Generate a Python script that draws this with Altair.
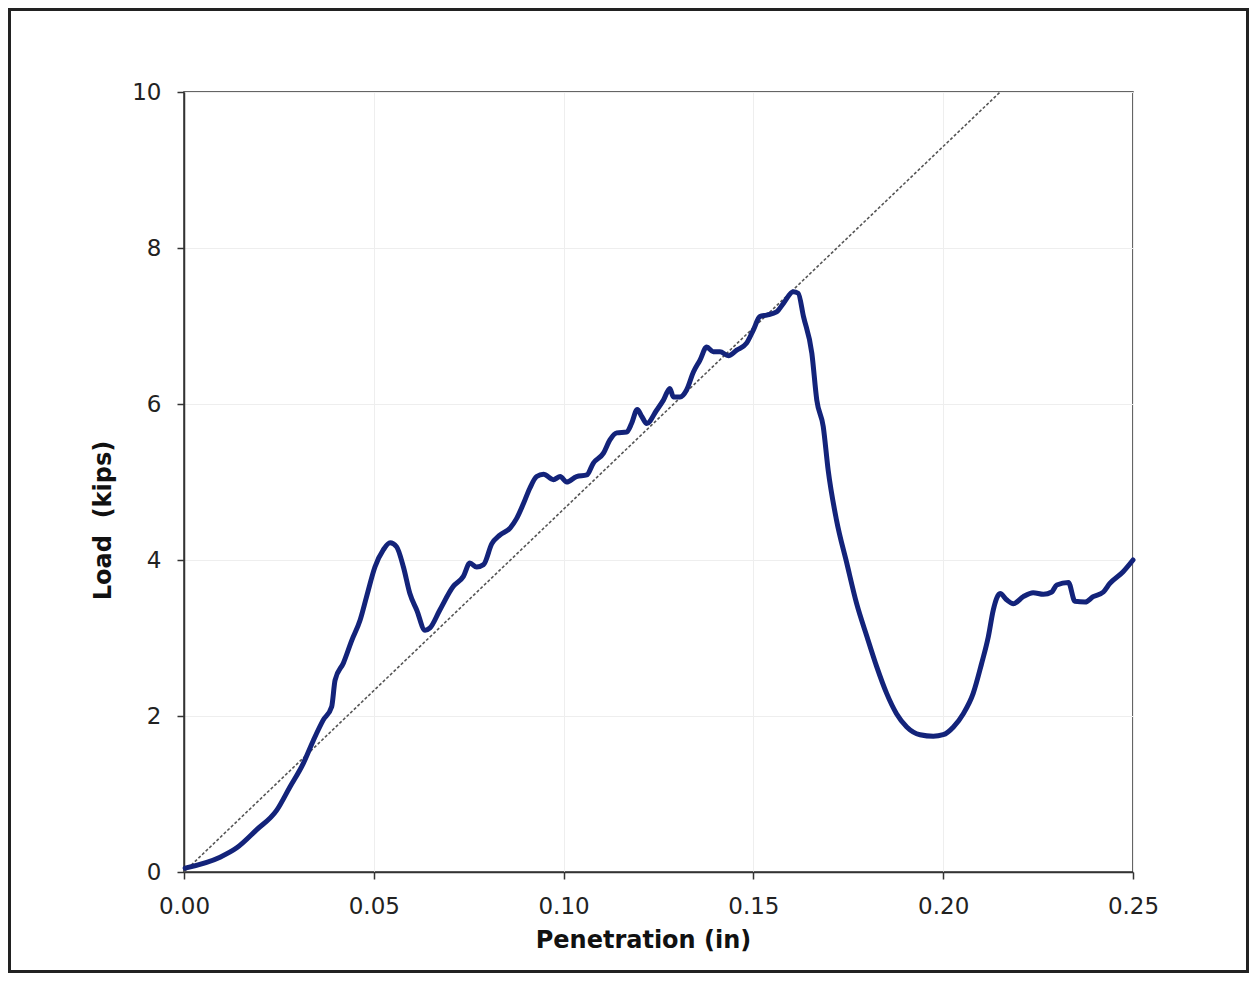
import altair as alt
import pandas as pd

# Measured load-penetration curve
penetration = [0.0003, 0.0095, 0.0139, 0.0191, 0.0244, 0.0279, 0.0314, 0.0341, 0.0367, 0.0389,
               0.0398, 0.0420, 0.0442, 0.0464, 0.0481, 0.0503, 0.0525, 0.0543, 0.0560, 0.0578,
               0.0595, 0.0613, 0.0635, 0.0648, 0.0674, 0.0709, 0.0736, 0.0753, 0.0771, 0.0789,
               0.0811, 0.0832, 0.0859, 0.0876, 0.0894, 0.0911, 0.0929, 0.0947, 0.0973, 0.0991,
               0.1008, 0.1034, 0.1061, 0.1078, 0.1105, 0.1122, 0.1140, 0.1166, 0.1179, 0.1194,
               0.1206, 0.1219, 0.1245, 0.1263, 0.1280, 0.1289, 0.1307, 0.1324, 0.1342, 0.1359,
               0.1377, 0.1394, 0.1412, 0.1434, 0.1456, 0.1482, 0.1500, 0.1517, 0.1535, 0.1561,
               0.1579, 0.1605, 0.1618, 0.1632, 0.1654, 0.1667, 0.1684, 0.1697, 0.1719, 0.1746,
               0.1772, 0.1799, 0.1825, 0.1851, 0.1877, 0.1904, 0.1939, 0.1974, 0.2000, 0.2027,
               0.2053, 0.2079, 0.2101, 0.2119, 0.2132, 0.2150, 0.2167, 0.2185, 0.2211, 0.2237,
               0.2264, 0.2286, 0.2299, 0.2330, 0.2347, 0.2374, 0.2395, 0.2422, 0.2439, 0.2474,
               0.2500]
load = [0.05, 0.19, 0.31, 0.54, 0.79, 1.09, 1.39, 1.69, 1.95, 2.12,
        2.46, 2.68, 2.97, 3.23, 3.53, 3.91, 4.13, 4.22, 4.17, 3.91,
        3.57, 3.36, 3.10, 3.13, 3.36, 3.66, 3.79, 3.96, 3.91, 3.94,
        4.21, 4.32, 4.41, 4.53, 4.72, 4.92, 5.07, 5.10, 5.03, 5.07,
        5.00, 5.07, 5.09, 5.24, 5.37, 5.54, 5.63, 5.64, 5.75, 5.93,
        5.84, 5.75, 5.92, 6.05, 6.20, 6.09, 6.09, 6.18, 6.41, 6.56,
        6.73, 6.67, 6.67, 6.62, 6.69, 6.78, 6.95, 7.12, 7.14, 7.18,
        7.29, 7.44, 7.42, 7.12, 6.65, 6.05, 5.71, 5.15, 4.51, 3.96,
        3.44, 3.02, 2.63, 2.29, 2.03, 1.86, 1.76, 1.74, 1.76, 1.86,
        2.03, 2.29, 2.67, 3.02, 3.36, 3.57, 3.49, 3.44, 3.53, 3.58,
        3.56, 3.59, 3.68, 3.71, 3.47, 3.46, 3.53, 3.59, 3.70, 3.85,
        4.00]

# Secant (stiffness) line through origin and peak
secant_x = [0.0, 0.215]
secant_y = [0.0, 10.0]

x_ticks = [0.00, 0.05, 0.10, 0.15, 0.20, 0.25]
y_ticks = [0, 2, 4, 6, 8, 10]

FONT = "DejaVu Sans"

curve_df = pd.DataFrame({"x": penetration, "y": load, "i": list(range(len(load)))})
secant_df = pd.DataFrame({"x": secant_x, "y": secant_y})

x_scale = alt.Scale(domain=[0, 0.25], nice=False, zero=False)
y_scale = alt.Scale(domain=[0, 10], nice=False)

x_axis = alt.Axis(
    values=x_ticks, format=".2f", title="Penetration (in)",
    titleX=459, titleY=68, titleBaseline="middle", titleAlign="center",
    tickSize=7, labelPadding=16, labelFontSize=23, titleFontSize=24,
    labelFlush=False, labelOverlap=False, labelBound=False,
)
y_axis = alt.Axis(
    values=y_ticks, format="d", title="Load\u00a0 (kips)",
    titleX=-81, titleY=428, titleAngle=-90, titleBaseline="middle", titleAlign="center",
    tickSize=7, labelPadding=16, labelFontSize=23, titleFontSize=24,
    labelFlush=False, labelOverlap=False, labelBound=False,
)

secant = alt.Chart(secant_df).mark_line(
    color="#555555", strokeWidth=1.6, strokeDash=[3, 2], clip=True
).encode(
    x=alt.X("x:Q", scale=x_scale, axis=x_axis),
    y=alt.Y("y:Q", scale=y_scale, axis=y_axis),
)

curve = alt.Chart(curve_df).mark_line(
    color="#13237a", strokeWidth=5, interpolate="monotone", strokeJoin="round", strokeCap="round"
).encode(
    x=alt.X("x:Q", scale=x_scale),
    y=alt.Y("y:Q", scale=y_scale),
    order="i:Q",
)

# Outer picture frame (kept inside the SVG canvas)
frame = alt.Chart(pd.DataFrame({"f": [1]})).mark_rect(
    fill="transparent", stroke="#222222", strokeWidth=3, clip=False
).encode(
    x=alt.value(-174.5), x2=alt.value(1063.5),
    y=alt.value(-82.5), y2=alt.value(879.5),
)

chart = alt.layer(secant, curve, frame).properties(
    width=949, height=780,
    autosize=alt.AutoSizeParams(type="none"),
    padding={"left": 176, "top": 84, "right": 116, "bottom": 101},
).configure(
    font=FONT,
    background="white",
).configure_view(
    stroke="#333333", strokeWidth=1.5,
).configure_axis(
    domainColor="#333333", domainWidth=1.5,
    tickColor="#333333", tickWidth=1.5,
    labelColor="#222222", titleColor="#111111",
    labelFont=FONT, titleFont=FONT, titleFontWeight="bold",
    gridColor="#eeeeee", gridWidth=1,
)

chart.save("out.html", embed_options={"renderer": "svg", "actions": False})
